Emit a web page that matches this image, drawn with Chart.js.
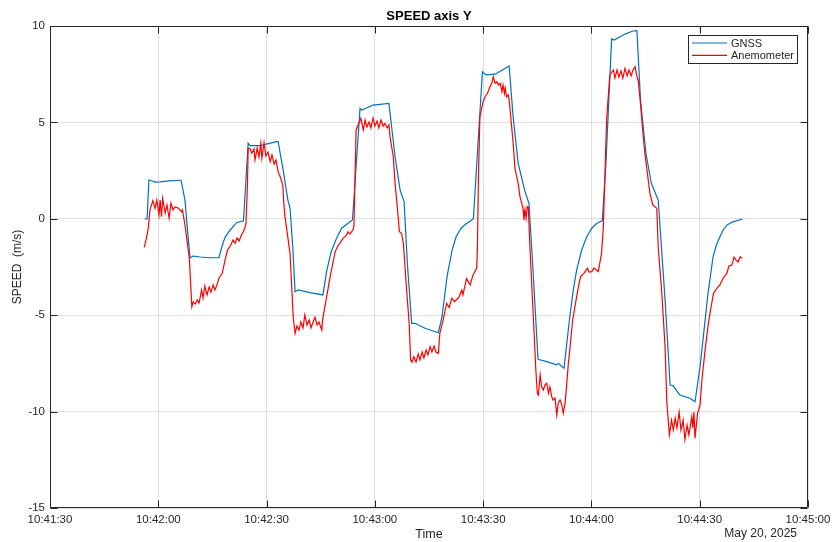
<!DOCTYPE html>
<html>
<head>
<meta charset="utf-8">
<script src="https://cdn.jsdelivr.net/npm/chart.js@4"></script>
<style>
  html, body { margin: 0; padding: 0; background: #ffffff; }
  #wrap { width: 832px; height: 542px; position: relative; }
</style>
</head>
<body>
<div id="wrap"><canvas id="c" width="832" height="542"></canvas></div>
<script>
// ---- data (seconds after 10:41:30, speed in m/s) ----
const chartTitle = 'SPEED axis Y';
const xTitle = 'Time';
const yTitle = 'SPEED  (m/s)';
const dateLabel = 'May 20, 2025';
const seriesNames = ['GNSS', 'Anemometer'];
const timeTickLabels = ['10:41:30', '10:42:00', '10:42:30', '10:43:00', '10:43:30', '10:44:00', '10:44:30', '10:45:00'];
const yTickValues = [-15, -10, -5, 0, 5, 10];

const gnssT = [26.3, 26.9, 27.4, 28.3, 29.1, 30.5, 33.0, 36.0, 36.3, 37.4, 38.1, 38.8, 39.6, 41.6, 44.3, 46.8,
  47.6, 48.5, 49.9, 51.7, 53.6,
  54.9, 55.4, 58.2, 62.8, 63.2, 64.6, 65.9, 66.5, 67.3, 67.9, 68.7, 72.0, 75.6,
  76.7, 77.9, 79.4, 80.8, 83.1, 83.8,
  85.9, 86.4, 89.5, 93.9, 95.6, 97.0, 98.1, 99.0, 100.2, 101.1, 103.9, 107.6,
  108.6, 110.0, 111.4, 112.5, 113.9, 115.2, 116.6, 117.3,
  119.8, 120.8, 123.3, 127.2, 128.3, 129.7, 131.6, 132.7, 133.8, 135.2, 137.6, 140.3, 140.9, 142.4,
  143.9, 144.9, 145.9, 147.3, 148.7, 150.1, 151.5, 153.0,
  154.0, 155.6, 156.3, 159.3, 161.5, 162.6, 163.6, 165.1, 166.6, 168.5, 170.4, 171.8, 172.6, 174.5, 177.3, 178.7,
  180.1, 181.1, 182.3, 183.7, 184.6, 185.6, 186.5, 187.6, 189.0, 191.9];
const gnssV = [0.0, 0.0, 2.01, 1.96, 1.90, 1.92, 1.97, 2.0, 2.0, 0.97, -0.6, -2.03, -1.93, -1.98, -2.02, -2.02,
  -1.45, -0.96, -0.58, -0.20, -0.10,
  3.92, 3.8, 3.8, 4.0, 4.0, 2.53, 0.97, 0.56, -1.6, -3.78, -3.69, -3.83, -3.95,
  -2.66, -1.71, -1.01, -0.49, -0.15, -0.06,
  5.73, 5.64, 5.9, 5.99, 3.22, 1.49, 0.89, -2.31, -5.42, -5.42, -5.68, -5.91,
  -5.08, -3.0, -1.62, -0.93, -0.49, -0.27, -0.10, 0.02,
  7.63, 7.46, 7.5, 7.93, 5.3, 2.88, 1.41, 0.8, -2.6, -7.29, -7.41, -7.58, -7.5, -7.75,
  -5.25, -3.78, -2.66, -1.62, -0.93, -0.49, -0.23, -0.11,
  2.8, 9.33, 9.27, 9.58, 9.74, 9.76, 6.15, 3.4, 1.84, 0.97, -4.2, -8.62, -8.65, -9.14, -9.31, -9.49,
  -7.67, -5.94, -3.87, -1.97, -1.37, -0.93, -0.58, -0.32, -0.17, -0.01];

const anemoT = [26.1, 26.8, 27.2, 27.7, 28.5, 29.1, 29.6, 30.2, 30.5, 30.9, 31.2, 31.9, 32.4, 33.0, 33.5, 34.1, 34.6, 35.5, 36.5, 36.7,
  37.4, 38.6, 39.3, 39.7, 40.2, 40.8, 41.3, 42.0, 42.4, 42.9, 43.5, 44.1, 44.6, 45.2, 45.7, 46.4, 46.8, 47.7, 48.6, 49.2, 50.1, 50.7,
  51.3, 51.8, 52.4, 52.9, 53.5, 54.0, 54.3, 54.7, 54.9, 55.4, 55.9, 56.5, 56.8, 57.4, 57.9, 58.4, 58.7, 59.3, 59.8, 60.4, 61.0, 61.5,
  62.1, 62.6, 63.3, 63.7, 64.5, 64.8, 65.1, 66.5, 67.4, 67.9, 68.4, 69.0, 69.5, 70.1, 70.6, 71.2, 71.8, 72.3, 72.9, 73.4, 74.0, 74.5,
  75.3, 75.5, 76.5, 77.6, 79.0, 79.9, 80.3, 81.2, 82.0, 82.6, 83.1, 83.9, 84.2, 84.8, 86.1, 86.8, 87.3, 87.8, 88.4, 88.9, 89.5, 90.0,
  90.6, 91.1, 91.7, 92.3, 92.8, 93.4, 93.9, 94.2, 95.1, 95.6, 96.2, 96.8, 97.4, 97.9, 98.8, 99.5, 99.9, 100.3, 100.8, 101.4, 102.0,
  102.5, 103.1, 103.6, 104.2, 104.7, 105.3, 105.8, 106.4, 106.9, 107.6, 108.0, 108.9, 109.9, 110.6, 111.3, 112.1, 112.5, 113.3, 114.1,
  114.4, 115.4, 116.4, 117.2, 118.2, 118.4, 118.7, 119.1, 119.6, 120.0, 120.5, 121.2, 121.9, 122.4, 122.8, 123.3, 123.8, 124.2, 124.7,
  125.2, 125.5, 125.9, 126.1, 126.5, 127.0, 127.4, 128.4, 128.8, 129.7, 130.2, 130.7, 131.1, 131.3, 131.6, 131.9, 132.2, 132.5, 133.0,
  133.9, 134.6, 135.0, 135.3, 135.8, 136.2, 136.7, 137.1, 137.6, 138.1, 138.5, 139.0, 139.4, 139.9, 140.4, 140.8, 141.3, 141.8, 142.2,
  142.7, 143.1, 143.6, 143.9, 144.8, 145.9, 146.4, 147.0, 147.9, 148.9, 149.3, 150.1, 150.7, 151.9, 152.8, 153.3, 154.2, 155.1, 156.1,
  156.5, 157.1, 157.6, 158.2, 158.7, 159.3, 159.9, 160.4, 161.0, 161.5, 162.1, 162.5, 163.0, 163.5, 164.2, 164.8, 165.5, 166.2, 167.0,
  167.6, 168.1, 168.5, 169.5, 170.4, 170.9, 171.6, 172.2, 172.7, 173.2, 173.7, 174.3, 174.8, 175.4, 175.9, 176.5, 177.0, 177.8, 178.1,
  178.4, 178.7, 179.4, 180.1, 180.6, 181.5, 182.4, 183.0, 183.8, 184.8, 185.6, 186.5, 187.5, 188.1, 188.9, 189.5, 190.1, 190.6, 191.2, 191.8];
const anemoV = [-1.48, -0.93, -0.51, 0.46, 0.94, 0.54, 0.97, 0.2, 0.97, 0.11, 1.06, 0.30, 0.72, 0.03, 0.82, 0.46, 0.61, 0.56, 0.37, 0.46,
  -0.32, -2.05, -4.56, -4.3, -4.42, -4.21, -4.37, -3.69, -4.11, -3.49, -3.95, -3.54, -3.80, -3.43, -3.69, -3.35, -3.07, -2.83, -2.05, -1.62, -1.36, -1.10,
  -1.26, -1.0, -1.15, -0.89, -0.68, -0.48, -0.22, 1.75, 3.66, 3.66, 3.4, 3.62, 3.05, 3.67, 3.20, 3.92, 3.15, 3.95, 3.26, 3.46, 2.96, 3.31,
  2.84, 3.05, 2.36, 2.22, 1.75, 0.72, 0.11, -1.79, -5.16, -5.94, -5.56, -5.77, -5.35, -5.66, -4.99, -5.51, -5.25, -5.66, -5.35, -5.10, -5.51, -5.35,
  -5.77, -5.25, -4.21, -3.0, -1.7, -1.36, -1.27, -1.0, -0.89, -0.68, -0.79, -0.58, -0.37, 4.61, 5.21, 4.61, 5.12, 4.76, 5.02, 4.71, 5.23, 4.81,
  5.07, 4.71, 5.12, 4.81, 4.95, 4.71, 4.87, 4.26, 3.22, 1.84, 0.63, -0.67, -0.75, -1.27, -3.69, -5.42, -7.32, -7.43, -7.15, -7.43, -7.01,
  -7.32, -6.91, -7.22, -6.80, -7.06, -6.63, -6.91, -6.60, -6.91, -6.98, -5.94, -5.25, -4.38, -4.6, -4.12, -4.3, -4.21, -4.06, -3.69,
  -3.95, -3.09, -3.43, -2.91, -2.57, -1.62, 2.18, 5.3, 5.73, 6.07, 6.33, 6.51, 6.85, 7.03, 7.37, 7.03, 7.11, 6.94, 7.03,
  6.59, 6.94, 6.51, 6.78, 6.33, 6.42, 5.81, 3.74, 2.62, 1.84, 1.15, 0.8, 0.46, -0.06, 0.46, 0.03, 0.63, 0.61, -1.62,
  -5.08, -7.84, -9.05, -9.14, -8.1, -8.71, -8.88, -8.62, -8.53, -9.05, -8.71, -9.23, -9.4, -9.29, -10.18, -9.56, -9.4, -9.66, -10.09,
  -9.57, -8.71, -7.5, -6.98, -5.25, -4.04, -3.52, -3.0, -2.83, -2.57, -2.76, -2.74, -2.55, -2.74, -1.79, -0.41, 5.12, 7.46, 7.72,
  7.30, 7.72, 7.35, 7.67, 7.30, 7.8, 7.41, 7.72, 7.41, 7.72, 7.89, 7.46, 7.11, 6.16, 4.61, 3.4, 2.36, 1.32, 0.72,
  0.63, 0.54, -1.45, -3.87, -6.63, -9.57, -11.21, -10.44, -10.95, -10.33, -10.84, -10.02, -10.95, -10.44, -11.45, -10.7, -11.21, -10.26, -10.85,
  -10.02, -11.38, -10.09, -9.66, -8.36, -6.8, -5.42, -4.73, -3.87, -3.59, -3.43, -3.07, -2.83, -2.45, -2.40, -2.0, -2.14, -2.24, -1.98, -2.05];

// ---- styles ----
const AXIS_COLOR = '#262626';
const GRID_COLOR = 'rgba(38,38,38,0.15)';
const COLORS = ['#0072BD', '#FF0000'];
const FONT = '"Liberation Sans", Arial, Helvetica, sans-serif';

function pts(ts, vs) { return ts.map((t, i) => ({ x: t, y: vs[i] })); }

const boxPlugin = {
  id: 'matlabBox',
  afterDraw(chart) {
    const ctx = chart.ctx;
    const a = chart.chartArea;
    const xs = chart.scales.x, ys = chart.scales.y;
    const L = Math.round(a.left) + 0.5, R = Math.round(a.right) - 0.5;
    const T = Math.round(a.top) + 0.5, B = Math.round(a.bottom) - 0.5;
    ctx.save();
    ctx.strokeStyle = AXIS_COLOR;
    ctx.lineWidth = 1;
    ctx.beginPath();
    ctx.rect(L, T, R - L, B - T);
    // inward ticks
    const tl = 7;
    xs.ticks.forEach(tk => {
      const px = Math.round(xs.getPixelForValue(tk.value)) + 0.5;
      ctx.moveTo(px, B); ctx.lineTo(px, B - tl);
      ctx.moveTo(px, T); ctx.lineTo(px, T + tl);
    });
    ys.ticks.forEach(tk => {
      const py = Math.round(ys.getPixelForValue(tk.value)) + 0.5;
      ctx.moveTo(L, py); ctx.lineTo(L + tl, py);
      ctx.moveTo(R, py); ctx.lineTo(R - tl, py);
    });
    ctx.stroke();

    // title, centred over the plot area
    ctx.font = 'bold 13px ' + FONT;
    ctx.textAlign = 'center';
    ctx.textBaseline = 'middle';
    ctx.fillStyle = '#000000';
    ctx.fillText(chartTitle, (a.left + a.right) / 2, 16.5);

    // legend
    const lx = 688.5, ly = 35.5, lw = 109, lh = 28;
    ctx.fillStyle = '#ffffff';
    ctx.fillRect(lx, ly, lw, lh);
    ctx.strokeStyle = AXIS_COLOR;
    ctx.strokeRect(lx, ly, lw, lh);
    ctx.font = '11px ' + FONT;
    ctx.textBaseline = 'middle';
    ctx.textAlign = 'left';
    chart.data.datasets.forEach((ds, i) => {
      const yy = ly + 7.5 + i * 12.3;
      ctx.strokeStyle = ds.borderColor;
      ctx.lineWidth = 1.2;
      ctx.beginPath();
      ctx.moveTo(692, yy); ctx.lineTo(727, yy);
      ctx.stroke();
      ctx.fillStyle = AXIS_COLOR;
      ctx.fillText(ds.label, 731, yy + 0.5);
    });

    // date label
    ctx.font = '12px ' + FONT;
    ctx.textAlign = 'right';
    ctx.fillStyle = AXIS_COLOR;
    ctx.fillText(dateLabel, 797, 534);
    ctx.restore();
  }
};

new Chart(document.getElementById('c'), {
  type: 'line',
  data: {
    datasets: [
      { label: seriesNames[0], data: pts(gnssT, gnssV), borderColor: COLORS[0], backgroundColor: COLORS[0],
        borderWidth: 1.2, pointRadius: 0, tension: 0, fill: false, order: 1 },
      { label: seriesNames[1], data: pts(anemoT, anemoV), borderColor: COLORS[1], backgroundColor: COLORS[1],
        borderWidth: 1.2, pointRadius: 0, tension: 0, fill: false, order: 0 }
    ]
  },
  options: {
    responsive: false,
    animation: false,
    devicePixelRatio: 1,
    layout: { padding: { left: 0, right: 24, top: 26, bottom: 0 } },
    plugins: {
      legend: { display: false },
      tooltip: { enabled: false },
      title: { display: false }
    },
    scales: {
      x: {
        type: 'linear', min: 0, max: 210,
        afterFit(s) { s.height = 34; s.paddingLeft = 0; s.paddingRight = 0; },
        ticks: {
          stepSize: 30, autoSkip: false, maxRotation: 0, padding: 5, color: AXIS_COLOR,
          font: { family: FONT, size: 11.5 },
          callback: (v) => timeTickLabels[Math.round(v / 30)]
        },
        grid: { color: GRID_COLOR, drawTicks: false },
        border: { display: false },
        title: { display: true, text: xTitle, color: AXIS_COLOR, font: { family: FONT, size: 12.5, lineHeight: 1.2 }, padding: { top: 0, bottom: 0 } }
      },
      y: {
        type: 'linear', min: yTickValues[0], max: yTickValues[yTickValues.length - 1],
        afterFit(s) { s.width = 50; s.paddingTop = 0; s.paddingBottom = 0; },
        afterBuildTicks(s) { s.ticks = yTickValues.map(v => ({ value: v })); },
        ticks: { padding: 5, color: AXIS_COLOR, font: { family: FONT, size: 11.5 } },
        grid: { color: GRID_COLOR, drawTicks: false },
        border: { display: false },
        title: { display: true, text: yTitle, color: AXIS_COLOR, font: { family: FONT, size: 12, lineHeight: 1.2 }, padding: { top: 10, bottom: 0 } }
      }
    }
  },
  plugins: [boxPlugin]
});
</script>
</body>
</html>
